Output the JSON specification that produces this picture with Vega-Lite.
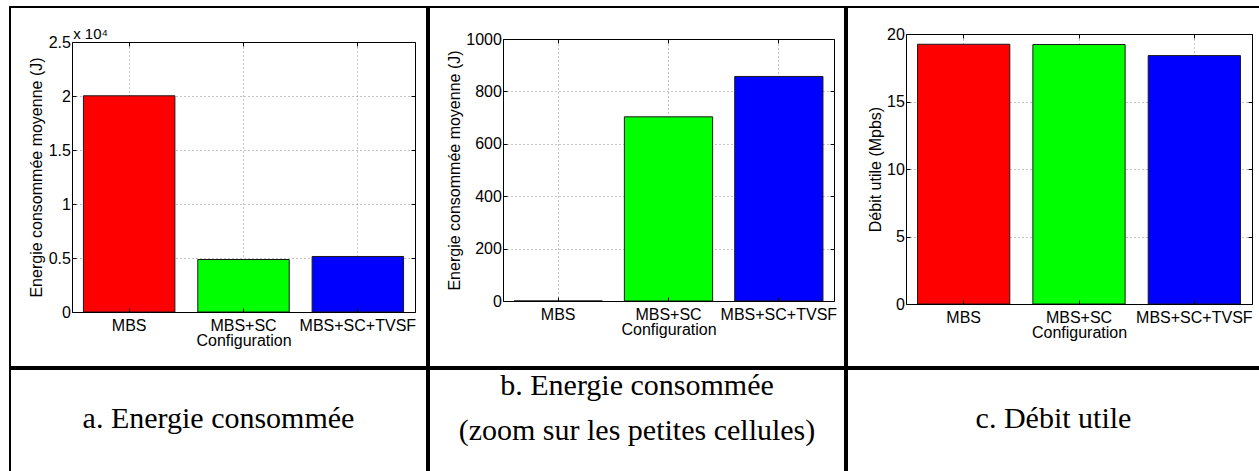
{
  "$schema": "https://vega.github.io/schema/vega-lite/v6.json",
  "padding": {"left": 9, "top": 6, "right": 0, "bottom": -3},
  "config": {
    "font": "Liberation Sans",
    "view": {"stroke": "#000000", "strokeWidth": 2},
    "axis": {
      "labelFont": "Liberation Sans", "labelFontSize": 16, "labelColor": "#000000",
      "titleFont": "Liberation Sans", "titleFontSize": 16, "titleFontWeight": "normal", "titleColor": "#000000",
      "domainColor": "#000000", "domainWidth": 1, "tickColor": "#000000", "tickWidth": 1,
      "gridColor": "#8a8a8a", "gridDash": [1, 3], "gridWidth": 1, "labelFlush": false, "labelOverlap": false
    }
  },
  "spacing": 0,
  "vconcat": [
    {
      "spacing": 0,
      "hconcat": [
        {
          "width": 417, "height": 360,
          "data": {"values": [
            {"config": "MBS", "value": 20020},
            {"config": "MBS+SC", "value": 4862},
            {"config": "MBS+SC+TVSF", "value": 5141}
          ]},
          "layer": [
            {
              "mark": {"type": "bar", "stroke": "#1a1a1a", "strokeWidth": 1},
              "encoding": {
                "x": {"field": "config", "type": "nominal", "sort": null,
                  "scale": {"domain": ["MBS", "MBS+SC", "MBS+SC+TVSF"], "range": [62, 405], "paddingInner": 0.2, "paddingOuter": 0.1},
                  "axis": {"orient": "bottom", "offset": -55, "title": "Configuration", "titlePadding": -1, "labelAngle": 0, "labelPadding": 9.4, "tickSize": -4, "bandPosition": 0.5, "grid": false, "zindex": 1}},
                "y": {"field": "value", "type": "quantitative",
                  "scale": {"domain": [0, 25000], "range": [305, 35], "nice": false},
                  "axis": {"orient": "left", "offset": -62, "values": [0, 5000, 10000, 15000, 20000, 25000], "labelExpr": "format(datum.value / 10000, '~g')", "labelPadding": 5.6, "tickSize": -4, "grid": true, "title": "Energie consommée moyenne (J)", "titlePadding": 3.3, "zindex": 0}},
                "color": {"field": "config", "type": "nominal", "legend": null,
                  "scale": {"domain": ["MBS", "MBS+SC", "MBS+SC+TVSF"], "range": ["#ff0000", "#00ff00", "#0000ff"]}}
              }
            },
            {
              "mark": {"type": "bar", "opacity": 0},
              "encoding": {
                "x": {"field": "config", "type": "nominal", "sort": null,
                  "scale": {"domain": ["MBS", "MBS+SC", "MBS+SC+TVSF"], "range": [62, 405], "paddingInner": 0.2, "paddingOuter": 0.1},
                  "axis": {"orient": "top", "offset": -35, "labels": false, "tickSize": -4, "bandPosition": 0.5, "grid": true, "zindex": 0,
                    "title": "x 10⁴", "titleFontSize": 15, "titleX": 62.7, "titleY": -3.7, "titleAlign": "left", "titleBaseline": "alphabetic", "titleAngle": 0}},
                "y": {"field": "value", "type": "quantitative",
                  "scale": {"domain": [0, 25000], "range": [305, 35], "nice": false},
                  "axis": {"orient": "right", "offset": -12, "values": [0, 5000, 10000, 15000, 20000, 25000], "labels": false, "tickSize": -4, "grid": false, "title": null, "zindex": 1}}
              }
            }
          ],
          "resolve": {"axis": {"x": "independent", "y": "independent"}}
        },
        {
          "width": 416, "height": 360,
          "data": {"values": [
            {"config": "MBS", "value": 0},
            {"config": "MBS+SC", "value": 703},
            {"config": "MBS+SC+TVSF", "value": 857}
          ]},
          "layer": [
            {
              "mark": {"type": "bar", "stroke": "#1a1a1a", "strokeWidth": 1},
              "encoding": {
                "x": {"field": "config", "type": "nominal", "sort": null,
                  "scale": {"domain": ["MBS", "MBS+SC", "MBS+SC+TVSF"], "range": [74, 405], "paddingInner": 0.2, "paddingOuter": 0.1},
                  "axis": {"orient": "bottom", "offset": -66, "title": "Configuration", "titlePadding": -1, "labelAngle": 0, "labelPadding": 9.4, "tickSize": -4, "bandPosition": 0.5, "grid": false, "zindex": 1}},
                "y": {"field": "value", "type": "quantitative",
                  "scale": {"domain": [0, 1000], "range": [294, 32], "nice": false},
                  "axis": {"orient": "left", "offset": -74, "values": [0, 200, 400, 600, 800, 1000], "format": "d", "labelPadding": 5.6, "tickSize": -4, "grid": true, "title": "Energie consommée moyenne (J)", "titlePadding": 3.3, "zindex": 0}},
                "color": {"field": "config", "type": "nominal", "legend": null,
                  "scale": {"domain": ["MBS", "MBS+SC", "MBS+SC+TVSF"], "range": ["#ff0000", "#00ff00", "#0000ff"]}}
              }
            },
            {
              "mark": {"type": "bar", "opacity": 0},
              "encoding": {
                "x": {"field": "config", "type": "nominal", "sort": null,
                  "scale": {"domain": ["MBS", "MBS+SC", "MBS+SC+TVSF"], "range": [74, 405], "paddingInner": 0.2, "paddingOuter": 0.1},
                  "axis": {"orient": "top", "offset": -32, "labels": false, "tickSize": -4, "bandPosition": 0.5, "grid": true, "title": null, "zindex": 0}},
                "y": {"field": "value", "type": "quantitative",
                  "scale": {"domain": [0, 1000], "range": [294, 32], "nice": false},
                  "axis": {"orient": "right", "offset": -11, "values": [0, 200, 400, 600, 800, 1000], "labels": false, "tickSize": -4, "grid": false, "title": null, "zindex": 1}}
              }
            }
          ],
          "resolve": {"axis": {"x": "independent", "y": "independent"}}
        },
        {
          "width": 413, "height": 360,
          "data": {"values": [
            {"config": "MBS", "value": 19.24},
            {"config": "MBS+SC", "value": 19.22},
            {"config": "MBS+SC+TVSF", "value": 18.4}
          ]},
          "layer": [
            {
              "mark": {"type": "bar", "stroke": "#1a1a1a", "strokeWidth": 1},
              "encoding": {
                "x": {"field": "config", "type": "nominal", "sort": null,
                  "scale": {"domain": ["MBS", "MBS+SC", "MBS+SC+TVSF"], "range": [59, 405], "paddingInner": 0.2, "paddingOuter": 0.1},
                  "axis": {"orient": "bottom", "offset": -63, "title": "Configuration", "titlePadding": -1, "labelAngle": 0, "labelPadding": 9.4, "tickSize": -4, "bandPosition": 0.5, "grid": false, "zindex": 1}},
                "y": {"field": "value", "type": "quantitative",
                  "scale": {"domain": [0, 20], "range": [297, 27], "nice": false},
                  "axis": {"orient": "left", "offset": -59, "values": [0, 5, 10, 15, 20], "labelPadding": 5.6, "tickSize": -4, "grid": true, "title": "Débit utile (Mpbs)", "titlePadding": 3.3, "zindex": 0}},
                "color": {"field": "config", "type": "nominal", "legend": null,
                  "scale": {"domain": ["MBS", "MBS+SC", "MBS+SC+TVSF"], "range": ["#ff0000", "#00ff00", "#0000ff"]}}
              }
            },
            {
              "mark": {"type": "bar", "opacity": 0},
              "encoding": {
                "x": {"field": "config", "type": "nominal", "sort": null,
                  "scale": {"domain": ["MBS", "MBS+SC", "MBS+SC+TVSF"], "range": [59, 405], "paddingInner": 0.2, "paddingOuter": 0.1},
                  "axis": {"orient": "top", "offset": -27, "labels": false, "tickSize": -4, "bandPosition": 0.5, "grid": true, "title": null, "zindex": 0}},
                "y": {"field": "value", "type": "quantitative",
                  "scale": {"domain": [0, 20], "range": [297, 27], "nice": false},
                  "axis": {"orient": "right", "offset": -8, "values": [0, 5, 10, 15, 20], "labels": false, "tickSize": -4, "grid": false, "title": null, "zindex": 1}}
              }
            }
          ],
          "resolve": {"axis": {"x": "independent", "y": "independent"}}
        }
      ]
    },
    {
      "spacing": 0,
      "hconcat": [
        {
          "width": 417, "height": 106,
          "view": {"stroke": "#000000", "strokeWidth": 2},
          "data": {"values": [{"caption": "a. Energie consommée"}]},
          "mark": {"type": "text", "font": "Liberation Serif", "fontSize": 30, "baseline": "alphabetic", "dy": 6, "color": "#000000"},
          "encoding": {"text": {"field": "caption", "type": "nominal"}}
        },
        {
          "width": 416, "height": 106,
          "view": {"stroke": "#000000", "strokeWidth": 2},
          "data": {"values": [{"caption": "b. Energie consommée\n(zoom sur les petites cellules)"}]},
          "mark": {"type": "text", "font": "Liberation Serif", "fontSize": 30, "baseline": "alphabetic", "dy": -26.7, "lineBreak": "\n", "lineHeight": 44.4, "color": "#000000"},
          "encoding": {"text": {"field": "caption", "type": "nominal"}}
        },
        {
          "width": 413, "height": 106,
          "view": {"stroke": "#000000", "strokeWidth": 2},
          "data": {"values": [{"caption": "c. Débit utile"}]},
          "mark": {"type": "text", "font": "Liberation Serif", "fontSize": 30, "baseline": "alphabetic", "dy": 6, "color": "#000000"},
          "encoding": {"text": {"field": "caption", "type": "nominal"}}
        }
      ]
    }
  ]
}
